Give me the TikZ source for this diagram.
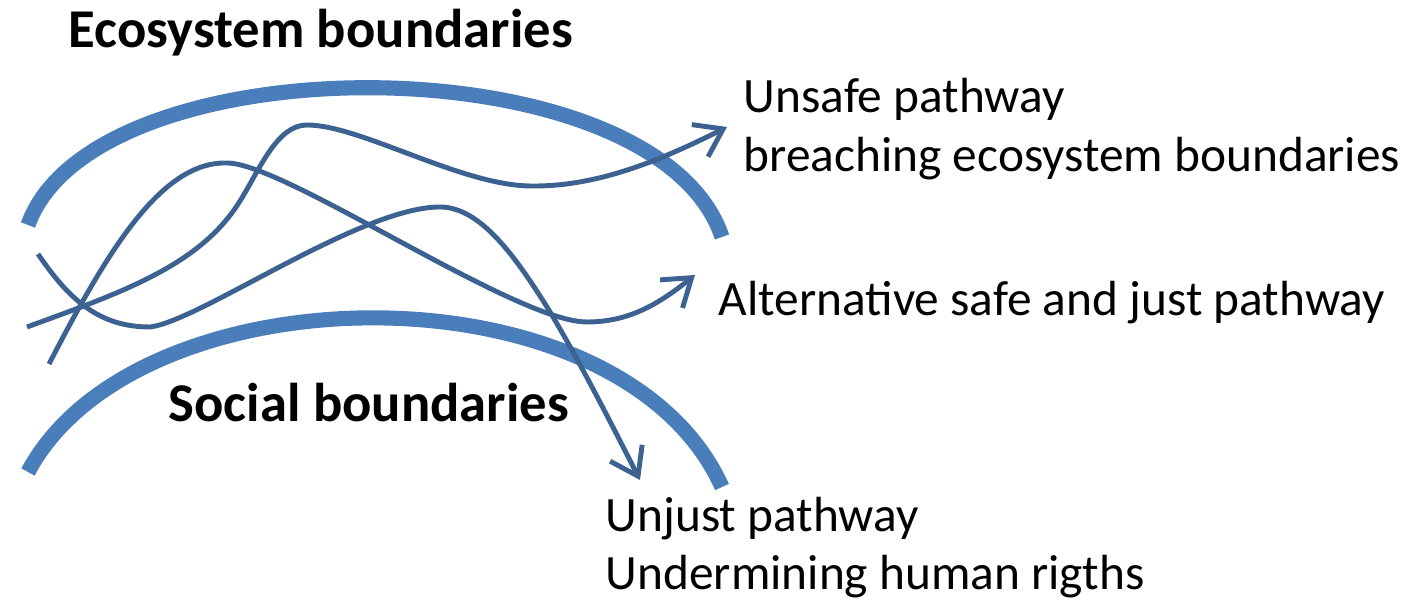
\documentclass[tikz,border=0pt]{standalone}
\usepackage{fontspec}
\setmainfont{Carlito}
\usepackage{xcolor}
\usetikzlibrary{arrows.meta}
\definecolor{arcblue}{RGB}{74,126,187}
\definecolor{pathblue}{RGB}{60,98,146}
\begin{document}
\begin{tikzpicture}[
	boundary/.style={line width=4.3pt, arcblue},
	pathway/.style={line width=1.4pt, pathblue, -{Straight Barb[length=2.6mm,width=3.6mm]}},
	label/.style={inner sep=0pt, anchor=base west, font=\fontsize{14.05}{16.9}\selectfont},
	title/.style={inner sep=0pt, anchor=base west, font=\fontsize{15.55}{18.6}\selectfont\bfseries}]
	\useasboundingbox (0,0) rectangle (14.13,6.01);
	%\draw[step=1cm,gray,very thin] (0,0) grid (14,6);
	% the two boundaries
	\draw[boundary] (0.28,3.76) .. controls (0.94,5.61) and (6.56,5.61) .. (7.22,3.64);
	\draw[boundary] (0.28,1.29) .. controls (1.37,3.34) and (6.20,3.40) .. (7.22,1.14);
	\node[title] (eco) at (0.68,5.53) {Ecosystem boundaries};
	\node[title] (social) at (1.68,1.79) {Social boundaries};
	% labels
	\node[label] (unsafe) at (7.43,4.88) {Unsafe pathway};
	\node[label] (breach) at (7.43,4.29) {breaching ecosystem boundaries};
	\node[label] (alt) at (7.18,2.85) {Alternative safe and just pathway};
	\node[label] (unjust) at (6.05,0.69) {Unjust pathway};
	\node[label] (undermine) at (6.05,0.11) {Undermining human rigths};
	% start and end of the pathways
	\coordinate (us) at (0.27,2.74);
	\coordinate (ut) at (7.27,4.74);
	\coordinate (as) at (0.49,2.37);
	\coordinate (at) at (6.95,3.26);
	\coordinate (js) at (0.38,3.47);
	\coordinate (jt) at (6.40,1.21);
	% unsafe
	\draw[pathway] (us) .. controls (1.2,3.08) and (2.0,3.35) .. (2.40,4.00)
		.. controls (2.60,4.32) and (2.77,4.76) .. (3.07,4.76)
		.. controls (3.6,4.76) and (4.6,4.16) .. (5.30,4.15)
		.. controls (5.9,4.14) and (6.5,4.35) .. (ut);
	% safe and just
	\draw[pathway] (as) .. controls (1.05,3.45) and (1.6,4.40) .. (2.27,4.38)
		.. controls (2.85,4.38) and (5.15,2.79) .. (5.87,2.79)
		.. controls (6.3,2.79) and (6.6,2.98) .. (at);
	% unjust
	\draw[pathway] (js) .. controls (0.7,3.0) and (1.0,2.74) .. (1.50,2.74)
		.. controls (2.0,2.80) and (3.6,3.94) .. (4.40,3.94)
		.. controls (4.8,3.94) and (5.15,3.45) .. (5.47,2.94)
		.. controls (5.8,2.40) and (6.2,1.60) .. (jt);
\end{tikzpicture}
\end{document}
